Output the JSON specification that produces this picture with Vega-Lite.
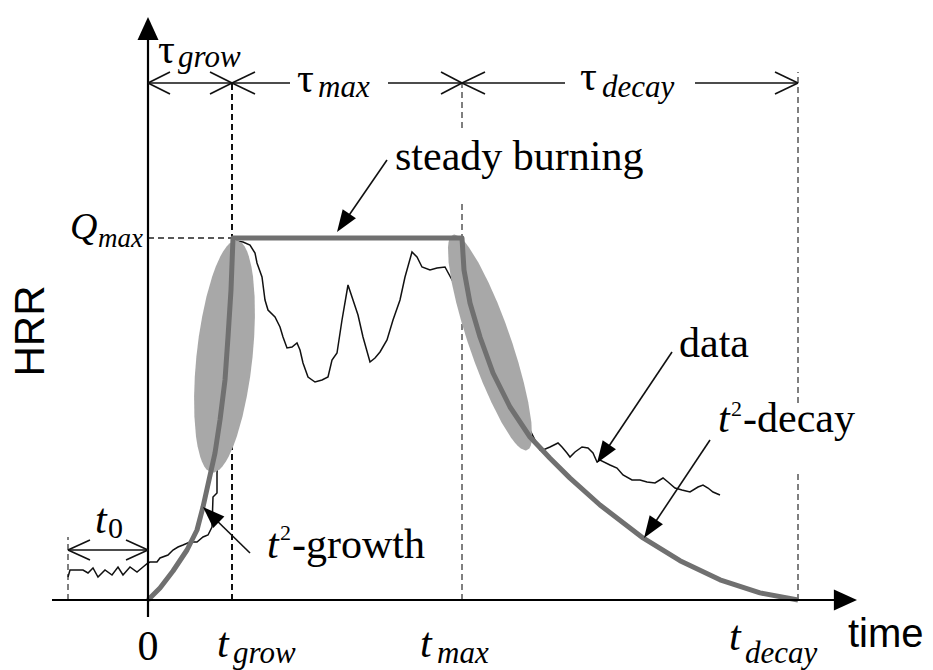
{
  "$schema": "https://vega.github.io/schema/vega-lite/v6.json",
  "width": 933,
  "height": 670,
  "autosize": "none",
  "padding": 0,
  "background": "white",
  "config": {"view": {"stroke": null}},
  "datasets": {
    "guides": [
      {"g": "grow", "t": 84, "q": 0, "t2": 84, "q2": 517},
      {"g": "qmax", "t": 0, "q": 362, "t2": 84, "q2": 362},
      {"g": "max", "t": 314, "q": 0, "t2": 314, "q2": 400},
      {"g": "max", "t": 314, "q": 472, "t2": 314, "q2": 517},
      {"g": "decay", "t": 650, "q": 0, "t2": 650, "q2": 130},
      {"g": "decay", "t": 650, "q": 197, "t2": 650, "q2": 528},
      {"g": "t0", "t": -80, "q": 0, "t2": -80, "q2": 63}
    ],
    "hrr": [
      {"i": 0, "t": -80, "q": 23}, {"i": 1, "t": -78, "q": 30}, {"i": 2, "t": -65, "q": 30}, {"i": 3, "t": -60, "q": 27},
      {"i": 4, "t": -55, "q": 32}, {"i": 5, "t": -50, "q": 23}, {"i": 6, "t": -43, "q": 30}, {"i": 7, "t": -36, "q": 25},
      {"i": 8, "t": -30, "q": 33}, {"i": 9, "t": -25, "q": 25}, {"i": 10, "t": -18, "q": 33}, {"i": 11, "t": -11, "q": 28},
      {"i": 12, "t": -5, "q": 33}, {"i": 13, "t": 0, "q": 37}, {"i": 14, "t": 2, "q": 38}, {"i": 15, "t": 9, "q": 38},
      {"i": 16, "t": 12, "q": 42}, {"i": 17, "t": 20, "q": 45}, {"i": 18, "t": 25, "q": 50}, {"i": 19, "t": 30, "q": 53},
      {"i": 20, "t": 35, "q": 55}, {"i": 21, "t": 42, "q": 58}, {"i": 22, "t": 49, "q": 58}, {"i": 23, "t": 55, "q": 63},
      {"i": 24, "t": 60, "q": 65}, {"i": 25, "t": 64, "q": 73}, {"i": 26, "t": 65, "q": 103}, {"i": 27, "t": 69, "q": 107},
      {"i": 28, "t": 69, "q": 127}, {"i": 29, "t": 77, "q": 240}, {"i": 30, "t": 89, "q": 359}, {"i": 31, "t": 95, "q": 358},
      {"i": 32, "t": 102, "q": 355}, {"i": 33, "t": 107, "q": 347}, {"i": 34, "t": 109, "q": 337}, {"i": 35, "t": 114, "q": 323},
      {"i": 36, "t": 117, "q": 300}, {"i": 37, "t": 120, "q": 290}, {"i": 38, "t": 127, "q": 283}, {"i": 39, "t": 132, "q": 273},
      {"i": 40, "t": 135, "q": 263}, {"i": 41, "t": 139, "q": 252}, {"i": 42, "t": 144, "q": 253}, {"i": 43, "t": 149, "q": 257},
      {"i": 44, "t": 152, "q": 250}, {"i": 45, "t": 155, "q": 237}, {"i": 46, "t": 160, "q": 223}, {"i": 47, "t": 167, "q": 218},
      {"i": 48, "t": 174, "q": 220}, {"i": 49, "t": 180, "q": 223}, {"i": 50, "t": 184, "q": 240}, {"i": 51, "t": 189, "q": 247},
      {"i": 52, "t": 194, "q": 280}, {"i": 53, "t": 200, "q": 315}, {"i": 54, "t": 205, "q": 300}, {"i": 55, "t": 210, "q": 285},
      {"i": 56, "t": 215, "q": 263}, {"i": 57, "t": 222, "q": 238}, {"i": 58, "t": 227, "q": 242}, {"i": 59, "t": 232, "q": 248},
      {"i": 60, "t": 239, "q": 260}, {"i": 61, "t": 245, "q": 280}, {"i": 62, "t": 252, "q": 300}, {"i": 63, "t": 257, "q": 323},
      {"i": 64, "t": 264, "q": 348}, {"i": 65, "t": 269, "q": 343}, {"i": 66, "t": 274, "q": 333}, {"i": 67, "t": 282, "q": 330},
      {"i": 68, "t": 289, "q": 332}, {"i": 69, "t": 297, "q": 333}, {"i": 70, "t": 342, "q": 250}, {"i": 71, "t": 392, "q": 150},
      {"i": 72, "t": 395, "q": 150}, {"i": 73, "t": 402, "q": 153}, {"i": 74, "t": 410, "q": 157}, {"i": 75, "t": 414, "q": 153},
      {"i": 76, "t": 419, "q": 147}, {"i": 77, "t": 422, "q": 143}, {"i": 78, "t": 427, "q": 148}, {"i": 79, "t": 434, "q": 153},
      {"i": 80, "t": 440, "q": 152}, {"i": 81, "t": 445, "q": 147}, {"i": 82, "t": 449, "q": 138}, {"i": 83, "t": 452, "q": 140},
      {"i": 84, "t": 462, "q": 135}, {"i": 85, "t": 469, "q": 132}, {"i": 86, "t": 475, "q": 125}, {"i": 87, "t": 484, "q": 120},
      {"i": 88, "t": 492, "q": 120}, {"i": 89, "t": 499, "q": 118}, {"i": 90, "t": 507, "q": 117}, {"i": 91, "t": 515, "q": 122},
      {"i": 92, "t": 520, "q": 118}, {"i": 93, "t": 527, "q": 112}, {"i": 94, "t": 534, "q": 110}, {"i": 95, "t": 542, "q": 108},
      {"i": 96, "t": 550, "q": 113}, {"i": 97, "t": 555, "q": 115}, {"i": 98, "t": 560, "q": 112}, {"i": 99, "t": 565, "q": 108},
      {"i": 100, "t": 572, "q": 105}
    ],
    "ellipses": [
      {"band": "growth", "q": 359.5, "t": 86.7, "t2": 89.7},
      {"band": "growth", "q": 356.5, "t": 81.4, "t2": 94.5},
      {"band": "growth", "q": 353.5, "t": 78.6, "t2": 96.7},
      {"band": "growth", "q": 348.5, "t": 75.1, "t2": 99.2},
      {"band": "growth", "q": 343.5, "t": 72.3, "t2": 100.9},
      {"band": "growth", "q": 333.5, "t": 67.8, "t2": 103.4},
      {"band": "growth", "q": 323.5, "t": 64.2, "t2": 105.0},
      {"band": "growth", "q": 303.5, "t": 58.5, "t2": 106.6},
      {"band": "growth", "q": 283.5, "t": 54.2, "t2": 106.9},
      {"band": "growth", "q": 263.5, "t": 50.8, "t2": 106.2},
      {"band": "growth", "q": 243.5, "t": 48.4, "t2": 104.6},
      {"band": "growth", "q": 223.5, "t": 46.8, "t2": 102.2},
      {"band": "growth", "q": 203.5, "t": 46.1, "t2": 98.8},
      {"band": "growth", "q": 183.5, "t": 46.4, "t2": 94.5},
      {"band": "growth", "q": 163.5, "t": 48.0, "t2": 88.8},
      {"band": "growth", "q": 153.5, "t": 49.6, "t2": 85.2},
      {"band": "growth", "q": 143.5, "t": 52.1, "t2": 80.7},
      {"band": "growth", "q": 138.5, "t": 53.9, "t2": 77.9},
      {"band": "growth", "q": 133.5, "t": 56.3, "t2": 74.4},
      {"band": "growth", "q": 130.5, "t": 58.5, "t2": 71.6},
      {"band": "growth", "q": 127.5, "t": 63.3, "t2": 66.3},
      {"band": "decay", "q": 365.5, "t": 305.9, "t2": 306.5},
      {"band": "decay", "q": 363.5, "t": 302.6, "t2": 311.2},
      {"band": "decay", "q": 360.5, "t": 301.2, "t2": 314.6},
      {"band": "decay", "q": 357.5, "t": 300.5, "t2": 317.3},
      {"band": "decay", "q": 352.5, "t": 300.0, "t2": 321.0},
      {"band": "decay", "q": 337.5, "t": 300.6, "t2": 330.4},
      {"band": "decay", "q": 317.5, "t": 303.7, "t2": 340.5},
      {"band": "decay", "q": 297.5, "t": 308.2, "t2": 349.4},
      {"band": "decay", "q": 277.5, "t": 313.6, "t2": 357.2},
      {"band": "decay", "q": 257.5, "t": 319.8, "t2": 364.2},
      {"band": "decay", "q": 237.5, "t": 326.8, "t2": 370.4},
      {"band": "decay", "q": 217.5, "t": 334.6, "t2": 375.8},
      {"band": "decay", "q": 197.5, "t": 343.5, "t2": 380.3},
      {"band": "decay", "q": 177.5, "t": 353.6, "t2": 383.4},
      {"band": "decay", "q": 162.5, "t": 362.9, "t2": 384.0},
      {"band": "decay", "q": 157.5, "t": 366.7, "t2": 383.5},
      {"band": "decay", "q": 154.5, "t": 369.4, "t2": 382.8},
      {"band": "decay", "q": 151.5, "t": 372.8, "t2": 381.4},
      {"band": "decay", "q": 149.5, "t": 377.5, "t2": 378.1}
    ],
    "model": [
      {"i": 0, "t": 0, "q": 0}, {"i": 1, "t": 12, "q": 12}, {"i": 2, "t": 25, "q": 29}, {"i": 3, "t": 39, "q": 50},
      {"i": 4, "t": 49, "q": 70}, {"i": 5, "t": 55, "q": 93}, {"i": 6, "t": 61, "q": 120}, {"i": 7, "t": 67, "q": 147},
      {"i": 8, "t": 72, "q": 180}, {"i": 9, "t": 77, "q": 220}, {"i": 10, "t": 80, "q": 263}, {"i": 11, "t": 83, "q": 310},
      {"i": 12, "t": 85, "q": 362}, {"i": 13, "t": 314, "q": 362}, {"i": 14, "t": 316, "q": 330}, {"i": 15, "t": 322, "q": 297},
      {"i": 16, "t": 332, "q": 263}, {"i": 17, "t": 345, "q": 227}, {"i": 18, "t": 362, "q": 193}, {"i": 19, "t": 382, "q": 163},
      {"i": 20, "t": 402, "q": 141.7}, {"i": 21, "t": 422, "q": 121.9}, {"i": 22, "t": 452, "q": 95}, {"i": 23, "t": 495, "q": 62.1},
      {"i": 24, "t": 532, "q": 39.3}, {"i": 25, "t": 572, "q": 20.2}, {"i": 26, "t": 612, "q": 7.1}, {"i": 27, "t": 650, "q": 0}
    ],
    "axes": [
      {"t": 0, "q": -17, "t2": 0, "q2": 562},
      {"t": -96, "q": 0, "t2": 690, "q2": 0}
    ],
    "segments": [
      {"t": 0, "q": 517, "t2": 84, "q2": 517},
      {"t": 84, "q": 517, "t2": 142, "q2": 517},
      {"t": 240, "q": 517, "t2": 314, "q2": 517},
      {"t": 314, "q": 517, "t2": 417, "q2": 517},
      {"t": 547, "q": 517, "t2": 650, "q2": 517},
      {"t": 0, "q": 517, "t2": 22, "q2": 528}, {"t": 0, "q": 517, "t2": 22, "q2": 506},
      {"t": 84, "q": 517, "t2": 62, "q2": 528}, {"t": 84, "q": 517, "t2": 62, "q2": 506},
      {"t": 84, "q": 517, "t2": 107, "q2": 528}, {"t": 84, "q": 517, "t2": 107, "q2": 506},
      {"t": 314, "q": 517, "t2": 293, "q2": 528}, {"t": 314, "q": 517, "t2": 293, "q2": 506},
      {"t": 314, "q": 517, "t2": 337, "q2": 528}, {"t": 314, "q": 517, "t2": 337, "q2": 506},
      {"t": 650, "q": 517, "t2": 627, "q2": 528}, {"t": 650, "q": 517, "t2": 627, "q2": 506},
      {"t": -80, "q": 50, "t2": 0, "q2": 50},
      {"t": -80, "q": 50, "t2": -58, "q2": 60}, {"t": -80, "q": 50, "t2": -58, "q2": 40},
      {"t": 0, "q": 50, "t2": -22, "q2": 60}, {"t": 0, "q": 50, "t2": -22, "q2": 40},
      {"t": 239, "q": 440, "t2": 195, "q2": 376},
      {"t": 524, "q": 248, "t2": 455, "q2": 145},
      {"t": 562, "q": 160, "t2": 502, "q2": 70},
      {"t": 102, "q": 47, "t2": 61, "q2": 87}
    ],
    "heads214": [
      {"t": 189, "q": 368}, {"t": 449, "q": 137}, {"t": 496, "q": 62}
    ],
    "heads314": [{"t": 55, "q": 93}],
    "headUp": [{"t": 0, "q": 583}],
    "headRight": [{"t": 709, "q": 0}],
    "serifBig": [
      {"label": "steady burning", "t": 247, "q": 430},
      {"label": "data", "t": 531, "q": 243},
      {"label": "-growth", "t": 144, "q": 42},
      {"label": "-decay", "t": 595, "q": 168},
      {"label": "0", "t": -10.5, "q": -60}
    ],
    "serifItalicBig": [
      {"label": "t", "t": 69, "q": -57},
      {"label": "t", "t": 272, "q": -57},
      {"label": "t", "t": 581, "q": -50},
      {"label": "t", "t": -53, "q": 67},
      {"label": "t", "t": 119, "q": 42},
      {"label": "t", "t": 570, "q": 168}
    ],
    "qLabel": [{"label": "Q", "t": -78, "q": 361}],
    "serifItalicSub": [
      {"label": "grow", "t": 85, "q": -63},
      {"label": "max", "t": 289, "q": -63},
      {"label": "decay", "t": 597, "q": -63},
      {"label": "grow", "t": 30, "q": 533},
      {"label": "max", "t": 170, "q": 503},
      {"label": "decay", "t": 454, "q": 503}
    ],
    "qSub": [{"label": "max", "t": -50, "q": 353}],
    "serifSub": [{"label": "0", "t": -40, "q": 62}],
    "serifSup": [
      {"label": "2", "t": 132, "q": 60},
      {"label": "2", "t": 583, "q": 184}
    ],
    "tau": [
      {"label": "τ", "t": 10, "q": 537},
      {"label": "τ", "t": 149, "q": 508},
      {"label": "τ", "t": 432, "q": 510}
    ],
    "hrrLabel": [{"label": "HRR", "t": -117, "q": 269}],
    "timeLabel": [{"label": "time", "t": 700, "q": -47}]
  },
  "encoding": {
    "x": {"field": "t", "type": "quantitative", "scale": {"domain": [-148, 785], "nice": false, "zero": false}, "axis": null},
    "y": {"field": "q", "type": "quantitative", "scale": {"domain": [-70, 600], "nice": false, "zero": false}, "axis": null}
  },
  "layer": [
    {
      "data": {"name": "guides"},
      "transform": [{"filter": "datum.g == 'grow'"}],
      "mark": {"type": "rule", "color": "#111111", "strokeWidth": 2, "strokeDash": [6, 4]},
      "encoding": {"x2": {"field": "t2"}, "y2": {"field": "q2"}}
    },
    {
      "data": {"name": "guides"},
      "transform": [{"filter": "datum.g == 'qmax'"}],
      "mark": {"type": "rule", "color": "#222222", "strokeWidth": 1.3, "strokeDash": [6, 4]},
      "encoding": {"x2": {"field": "t2"}, "y2": {"field": "q2"}}
    },
    {
      "data": {"name": "guides"},
      "transform": [{"filter": "datum.g == 'max' || datum.g == 'decay' || datum.g == 't0'"}],
      "mark": {"type": "rule", "color": "#555555", "strokeWidth": 1.5, "strokeDash": [6, 4]},
      "encoding": {"x2": {"field": "t2"}, "y2": {"field": "q2"}}
    },
    {
      "data": {"name": "hrr"},
      "mark": {"type": "line", "color": "#111111", "strokeWidth": 1.5},
      "encoding": {"order": {"field": "i", "type": "quantitative"}}
    },
    {
      "data": {"name": "ellipses"},
      "mark": {"type": "area", "orient": "horizontal", "color": "#a8a8a8", "opacity": 1},
      "encoding": {"x2": {"field": "t2"}, "detail": {"field": "band", "type": "nominal"}}
    },
    {
      "data": {"name": "model"},
      "mark": {"type": "line", "color": "#707070", "strokeWidth": 5, "strokeCap": "butt", "strokeJoin": "round"},
      "encoding": {"order": {"field": "i", "type": "quantitative"}}
    },
    {
      "data": {"name": "axes"},
      "mark": {"type": "rule", "color": "#000000", "strokeWidth": 2.2},
      "encoding": {"x2": {"field": "t2"}, "y2": {"field": "q2"}}
    },
    {
      "data": {"name": "segments"},
      "mark": {"type": "rule", "color": "#111111", "strokeWidth": 1.6},
      "encoding": {"x2": {"field": "t2"}, "y2": {"field": "q2"}}
    },
    {
      "data": {"name": "heads214"},
      "mark": {"type": "point", "shape": "M0,0L-0.8,2.2L0.8,2.2Z", "size": 400, "filled": true, "color": "#000000", "opacity": 1, "angle": 214}
    },
    {
      "data": {"name": "heads314"},
      "mark": {"type": "point", "shape": "M0,0L-0.8,2.2L0.8,2.2Z", "size": 400, "filled": true, "color": "#000000", "opacity": 1, "angle": 314}
    },
    {
      "data": {"name": "headUp"},
      "mark": {"type": "point", "shape": "M0,0L-1,2.2L1,2.2Z", "size": 441, "filled": true, "color": "#000000", "opacity": 1, "angle": 0}
    },
    {
      "data": {"name": "headRight"},
      "mark": {"type": "point", "shape": "M0,0L-1,2.2L1,2.2Z", "size": 441, "filled": true, "color": "#000000", "opacity": 1, "angle": 90}
    },
    {
      "data": {"name": "serifBig"},
      "mark": {"type": "text", "font": "Liberation Serif", "fontSize": 42, "align": "left", "baseline": "alphabetic", "color": "#000000"},
      "encoding": {"text": {"field": "label"}}
    },
    {
      "data": {"name": "serifItalicBig"},
      "mark": {"type": "text", "font": "Liberation Serif", "fontStyle": "italic", "fontSize": 42, "align": "left", "baseline": "alphabetic", "color": "#000000"},
      "encoding": {"text": {"field": "label"}}
    },
    {
      "data": {"name": "qLabel"},
      "mark": {"type": "text", "font": "Liberation Serif", "fontStyle": "italic", "fontSize": 38, "align": "left", "baseline": "alphabetic", "color": "#000000"},
      "encoding": {"text": {"field": "label"}}
    },
    {
      "data": {"name": "serifItalicSub"},
      "mark": {"type": "text", "font": "Liberation Serif", "fontStyle": "italic", "fontSize": 31, "align": "left", "baseline": "alphabetic", "color": "#000000"},
      "encoding": {"text": {"field": "label"}}
    },
    {
      "data": {"name": "qSub"},
      "mark": {"type": "text", "font": "Liberation Serif", "fontStyle": "italic", "fontSize": 27, "align": "left", "baseline": "alphabetic", "color": "#000000"},
      "encoding": {"text": {"field": "label"}}
    },
    {
      "data": {"name": "serifSub"},
      "mark": {"type": "text", "font": "Liberation Serif", "fontSize": 30, "align": "left", "baseline": "alphabetic", "color": "#000000"},
      "encoding": {"text": {"field": "label"}}
    },
    {
      "data": {"name": "serifSup"},
      "mark": {"type": "text", "font": "Liberation Serif", "fontSize": 22, "align": "left", "baseline": "alphabetic", "color": "#000000"},
      "encoding": {"text": {"field": "label"}}
    },
    {
      "data": {"name": "tau"},
      "mark": {"type": "text", "font": "Liberation Serif", "fontSize": 42, "align": "left", "baseline": "alphabetic", "color": "#000000"},
      "encoding": {"text": {"field": "label"}}
    },
    {
      "data": {"name": "hrrLabel"},
      "mark": {"type": "text", "font": "Liberation Sans", "fontSize": 42, "angle": 270, "align": "center", "baseline": "middle", "color": "#000000"},
      "encoding": {"text": {"field": "label"}}
    },
    {
      "data": {"name": "timeLabel"},
      "mark": {"type": "text", "font": "Liberation Sans", "fontSize": 40, "align": "left", "baseline": "alphabetic", "color": "#000000"},
      "encoding": {"text": {"field": "label"}}
    }
  ]
}
